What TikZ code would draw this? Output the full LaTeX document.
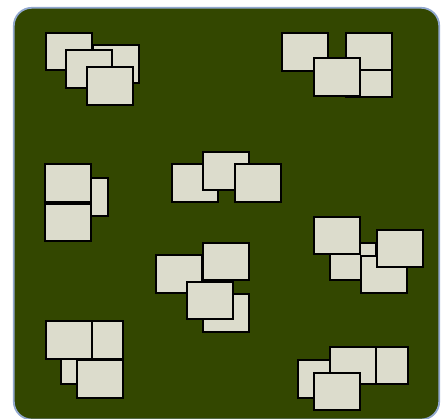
\documentclass[tikz,border=0pt]{standalone}
\definecolor{bgfill}{RGB}{51,71,0}
\definecolor{bgline}{RGB}{145,168,206}
\definecolor{cardfill}{RGB}{220,220,204}
\tikzset{
  card/.style={draw=black, fill=cardfill, line width=2pt, rectangle,
    minimum width=46pt, minimum height=37.5pt, inner sep=0pt, outer sep=0pt}
}
\begin{document}
\begin{tikzpicture}[x=1pt,y=-1pt]
\useasboundingbox (0,0) rectangle (443,418);
\begin{scope}
\clip (0,0) rectangle (443,418);
\draw[bgline, fill=bgfill, line width=1.8pt, rounded corners=18pt] (13.8,7.8) rectangle (439.2,419.5);
\end{scope}
% group 1
\node[card] (a) at (68.7,51.4) {};
\node[card] (b) at (116,64) {};
\node[card] (c) at (89.3,68.8) {};
\node[card] (d) at (110.3,85.8) {};
% group 2
\node[card] (e) at (305.3,52) {};
\node[card] (g) at (369.3,77.9) {};
\node[card] (f) at (368.7,51.3) {};
\node[card] (h) at (336.7,77) {};
% group 3
\node[card] (j) at (84.7,196.8) {};
\node[card] (i) at (68.3,183) {};
\node[card] (k) at (68.3,222.3) {};
% group 4
\node[card] (l) at (194.7,183) {};
\node[card] (m) at (226.3,170.8) {};
\node[card] (n) at (257.7,183) {};
% group 5
\node[card] (o) at (179,274) {};
\node[card] (p) at (226.3,261.5) {};
\node[card] (r) at (226.3,313) {};
\node[card] (q) at (210,300.5) {};
% group 6
\node[card] (t) at (353,261.5) {};
\node[card] (s) at (337.3,235.5) {};
\node[card] (u) at (384.3,274.7) {};
\node[card] (v) at (400.3,248.3) {};
% group 7
\node[card] (w3) at (84.3,365.6) {};
\node[card] (w2) at (100.3,339.8) {};
\node[card] (w1) at (68.7,339.8) {};
\node[card] (w4) at (100.3,379) {};
% group 8
\node[card] (x1) at (321,379) {};
\node[card] (x3) at (384.7,365.5) {};
\node[card] (x2) at (352.7,365.5) {};
\node[card] (x4) at (336.7,391.5) {};
\end{tikzpicture}
\end{document}
